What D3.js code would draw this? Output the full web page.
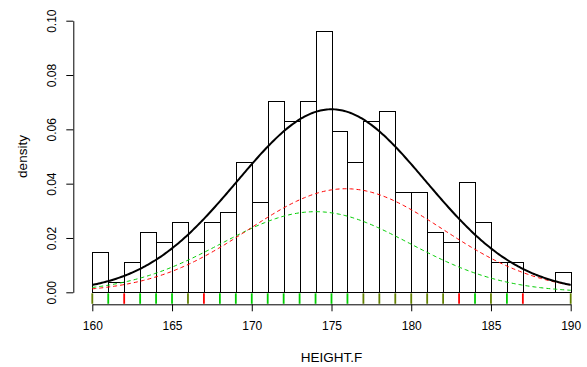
<!DOCTYPE html>
<html>
<head>
<meta charset="utf-8">
<script src="https://cdn.jsdelivr.net/npm/d3@7"></script>
<style>
  body { margin: 0; background: #fff; }
  text { font-family: "Liberation Sans", Arial, sans-serif; fill: #000; }
</style>
</head>
<body>
<div id="chart-area"></div>
<script>
// histogram of HEIGHT.F, one bar per cm, density scale
var binStarts = [160, 161, 162, 163, 164, 165, 166, 167, 168, 169,
                 170, 171, 172, 173, 174, 175, 176, 177, 178, 179,
                 180, 181, 182, 183, 184, 185, 186, 187, 188, 189];
var densities = [0.0148, 0.0037, 0.0111, 0.0222, 0.0185, 0.0259, 0.0185, 0.0259, 0.0296, 0.0481,
                 0.0333, 0.0704, 0.0630, 0.0704, 0.0963, 0.0593, 0.0481, 0.0630, 0.0667, 0.0370,
                 0.0370, 0.0222, 0.0185, 0.0407, 0.0259, 0.0111, 0.0111, 0, 0, 0.0074];

// fitted normal curves (mean, sd, weight)
var fitAll   = { mean: 175.0, sd: 5.92, weight: 1.00 };
var fitRed   = { mean: 175.9, sd: 6.10, weight: 0.583 };
var fitGreen = { mean: 174.0, sd: 5.90, weight: 0.439 };

// rug: observed values in each group
var rugGreen = [160, 161, 163, 164, 165, 166, 168, 169, 170, 171, 172, 173, 174, 175, 176,
                177, 178, 179, 180, 181, 182, 184, 185, 186, 190];
var rugRed = [160, 162, 166, 167, 177, 178, 179, 180, 181, 182, 183, 185, 187, 190];

var xTicks = [160, 165, 170, 175, 180, 185, 190];
var yTicks = [0, 0.02, 0.04, 0.06, 0.08, 0.10];

var width = 587, height = 367;

var svg = d3.select("#chart-area")
  .append("svg")
    .attr("width", width)
    .attr("height", height);

var x = d3.scaleLinear().domain([160, 190]).range([92.3, 570.7]);
var y = d3.scaleLinear().domain([0, 0.1]).range([292.3, 20.7]);
var axisY = 304.3;

// bars
svg.append("g")
  .selectAll("rect")
  .data(binStarts.map(function(b, i) { return { x0: b, d: densities[i] }; })
                 .filter(function(d) { return d.d > 0; }))
  .enter()
  .append("rect")
    .attr("x", function(d) { return Math.round(x(d.x0)) + 0.5; })
    .attr("y", function(d) { return Math.round(y(d.d)) + 0.5; })
    .attr("width", function(d) { return Math.round(x(d.x0 + 1)) - Math.round(x(d.x0)); })
    .attr("height", function(d) { return Math.round(y(0)) - Math.round(y(d.d)); })
    .attr("fill", "none")
    .attr("stroke", "#000")
    .attr("stroke-width", 1);

// base line of the histogram
svg.append("line")
  .attr("x1", x(160)).attr("x2", x(190))
  .attr("y1", Math.round(y(0)) + 0.5).attr("y2", Math.round(y(0)) + 0.5)
  .attr("stroke", "#000");

// rug (ticks where both groups sit get a blended colour)
var mixColor = d3.interpolateRgb("#ff0000", "#00cd00")(0.62);
var rugAll = Array.from(new Set(rugGreen.concat(rugRed))).sort(d3.ascending);
svg.append("g")
  .selectAll("line")
  .data(rugAll)
  .enter()
  .append("line")
    .attr("x1", function(d) { return x(d); })
    .attr("x2", function(d) { return x(d); })
    .attr("y1", y(0) + 1)
    .attr("y2", axisY - 0.5)
    .attr("stroke-width", 1.8)
    .attr("stroke", function(d) {
      var g = rugGreen.indexOf(d) >= 0, r = rugRed.indexOf(d) >= 0;
      if (g && r) return mixColor;
      return g ? "#00cd00" : "#ff0000";
    });

// curves
function dens(f, v) {
  var z = (v - f.mean) / f.sd;
  return f.weight * Math.exp(-0.5 * z * z) / (f.sd * Math.sqrt(2 * Math.PI));
}
var grid = d3.range(160, 190.001, 0.1);
var line = d3.line()
  .x(function(d) { return x(d[0]); })
  .y(function(d) { return y(d[1]); });

[[fitGreen, "#00cd00", "4,3", 1], [fitRed, "#ff0000", "4,3", 1], [fitAll, "#000", null, 2]]
  .forEach(function(c) {
    svg.append("path")
      .attr("d", line(grid.map(function(v) { return [v, dens(c[0], v)]; })))
      .attr("fill", "none")
      .attr("stroke", c[1])
      .attr("stroke-width", c[3])
      .attr("stroke-dasharray", c[2]);
  });

// x axis
var xAxis = svg.append("g")
  .attr("transform", "translate(0," + axisY + ")")
  .call(d3.axisBottom(x).tickValues(xTicks).tickSize(7).tickSizeOuter(0).tickPadding(10));
xAxis.selectAll("text").attr("font-size", 12).style("font-family", "Liberation Sans, Arial, sans-serif");

// y axis
var yAxis = svg.append("g")
  .attr("transform", "translate(73.3,0)")
  .call(d3.axisLeft(y).tickValues(yTicks).tickSize(7).tickSizeOuter(0)
        .tickFormat(d3.format(".2f")));
yAxis.selectAll("text")
  .attr("font-size", 12)
  .style("font-family", "Liberation Sans, Arial, sans-serif")
  .attr("text-anchor", "middle")
  .attr("transform", "rotate(-90)")
  .attr("x", 0)
  .attr("dx", null)
  .attr("dy", null)
  .attr("y", -17);
svg.selectAll(".domain, .tick line").attr("stroke", "#000");

// axis titles
svg.append("text")
  .attr("x", x(175))
  .attr("y", 362)
  .attr("text-anchor", "middle")
  .attr("font-size", 13.5)
  .text("HEIGHT.F");

svg.append("text")
  .attr("transform", "translate(27," + y(0.05) + ") rotate(-90)")
  .attr("text-anchor", "middle")
  .attr("font-size", 13.5)
  .text("density");
</script>
</body>
</html>
